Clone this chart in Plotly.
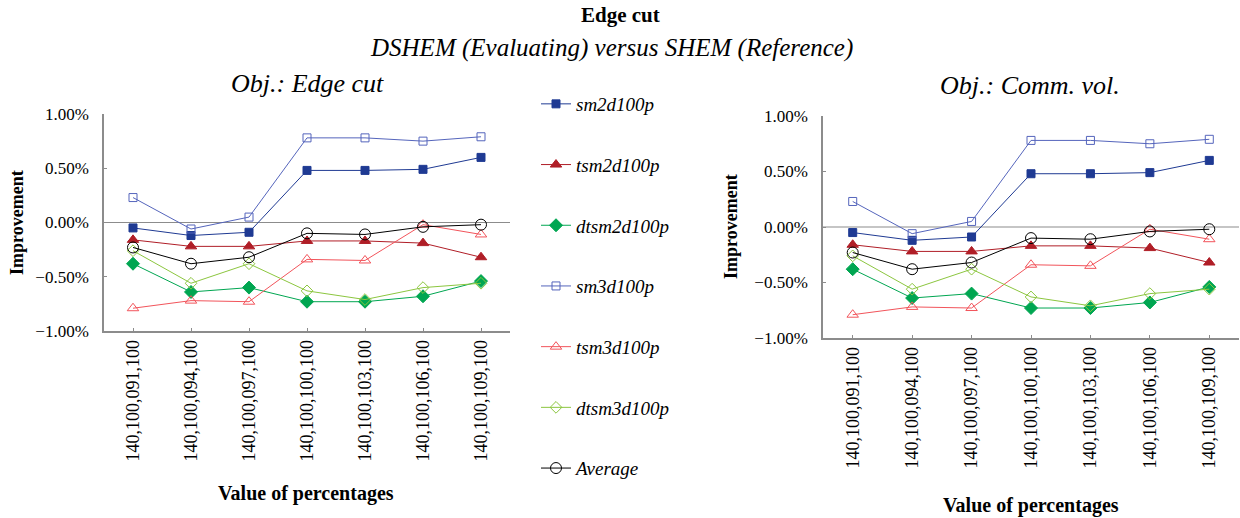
import plotly.graph_objects as go

categories = ["140,100,091,100", "140,100,094,100", "140,100,097,100", "140,100,100,100",
              "140,100,103,100", "140,100,106,100", "140,100,109,100"]

sm2d100p = [-0.05, -0.12, -0.09, 0.48, 0.48, 0.49, 0.60]
tsm2d100p = [-0.16, -0.22, -0.22, -0.17, -0.17, -0.19, -0.32]
dtsm2d100p = [-0.38, -0.64, -0.60, -0.73, -0.73, -0.68, -0.54]
sm3d100p = [0.23, -0.06, 0.05, 0.78, 0.78, 0.75, 0.79]
tsm3d100p = [-0.79, -0.72, -0.73, -0.34, -0.35, -0.02, -0.11]
dtsm3d100p = [-0.26, -0.56, -0.38, -0.63, -0.71, -0.60, -0.56]
average = [-0.23, -0.38, -0.32, -0.10, -0.11, -0.04, -0.02]

y_ticks = [-1.0, -0.5, 0.0, 0.5, 1.0]
y_tick_labels = ["\u22121.00%", "\u22120.50%", "0.00%", "0.50%", "1.00%"]

series = [
    ("sm2d100p", sm2d100p, "#1F3A93", "square", 8),
    ("tsm2d100p", tsm2d100p, "#B01E27", "triangle-up", 10),
    ("dtsm2d100p", dtsm2d100p, "#00A651", "diamond", 10),
    ("sm3d100p", sm3d100p, "#5565BC", "square-open", 8),
    ("tsm3d100p", tsm3d100p, "#F2545B", "triangle-up-open", 10),
    ("dtsm3d100p", dtsm3d100p, "#8CC63F", "diamond-open", 9),
    ("Average", average, "#000000", "circle-open", 11),
]

SERIF = "Liberation Serif"
W, H = 1240, 518

fig = go.Figure()
for col, (xa, ya) in enumerate([("x", "y"), ("x2", "y2")]):
    for name, vals, color, sym, size in series:
        fig.add_trace(go.Scatter(
            x=categories, y=vals, name=name, xaxis=xa, yaxis=ya,
            mode="lines+markers",
            line=dict(color=color, width=1),
            marker=dict(symbol=sym, size=size, color=color,
                        line=dict(color=color, width=1)),
            showlegend=(col == 0), legendgroup=name,
        ))

def px_x(a, b):
    return [a / W, b / W]

def px_y(top, bottom):
    return [1 - bottom / H, 1 - top / H]

axis_common = dict(
    showline=True, linecolor="#8C8C8C", linewidth=1.5,
    ticks="inside", ticklen=3, tickcolor="#8C8C8C",
    showgrid=False, zeroline=False, automargin=False,
)
xfont = dict(family=SERIF, size=18, color="#000000")
yfont = dict(family=SERIF, size=17, color="#000000")

fig.update_layout(
    width=W, height=H,
    margin=dict(l=0, r=0, t=0, b=0, pad=0, autoexpand=False),
    paper_bgcolor="white", plot_bgcolor="white",
    font=dict(family=SERIF, color="#000000"),
    xaxis=dict(domain=px_x(104, 510), anchor="y", type="category",
               range=[-0.5, 6.5], tickangle=-90, tickfont=xfont, **axis_common),
    yaxis=dict(domain=px_y(114, 331), anchor="x", range=[-1, 1],
               tickmode="array", tickvals=y_ticks, ticktext=y_tick_labels,
               ticklabelstandoff=10, tickfont=yfont, **axis_common),
    xaxis2=dict(domain=px_x(823, 1239), anchor="y2", type="category",
                range=[-0.5, 6.5], tickangle=-90, tickfont=xfont, **axis_common),
    yaxis2=dict(domain=px_y(116, 338), anchor="x2", range=[-1, 1],
                tickmode="array", tickvals=y_ticks, ticktext=y_tick_labels,
                ticklabelstandoff=10, tickfont=yfont, **axis_common),
    legend=dict(x=536 / W, y=1 - 85 / H, xanchor="left", yanchor="top",
                font=dict(family=SERIF, size=19, color="#000000", style="italic"),
                tracegroupgap=33, bgcolor="rgba(0,0,0,0)",
                itemwidth=30),
    showlegend=True,
)

# zero reference lines
for xr, yr in [("x", "y"), ("x2", "y2")]:
    fig.add_shape(type="line", xref=f"{xr} domain", yref=yr, x0=0, x1=1, y0=0, y1=0,
                  line=dict(color="#8C8C8C", width=1.2), layer="below")

def ann(text, x, y, size, bold=False, italic=False, angle=0):
    t = f"<b>{text}</b>" if bold else text
    fig.add_annotation(text=t, x=x / W, y=1 - y / H, xref="paper", yref="paper",
                       showarrow=False, textangle=angle,
                       font=dict(family=SERIF, size=size, color="#000000",
                                 style="italic" if italic else "normal"),
                       xanchor="center", yanchor="middle")

ann("Edge cut", 620, 15, 21, bold=True)
ann("DSHEM (Evaluating) versus SHEM (Reference)", 611, 48, 25, italic=True)
ann("Obj.: Edge cut", 307, 83, 26, italic=True)
ann("Obj.: Comm. vol.", 1030, 85, 26, italic=True)
ann("Improvement", 17, 223, 18, bold=True, angle=-90)
ann("Improvement", 731, 227, 18, bold=True, angle=-90)
ann("Value of percentages", 306, 493, 20, bold=True)
ann("Value of percentages", 1031, 505, 20, bold=True)

fig.write_html(
    "out.html",
    config={"displayModeBar": False},
    post_script="document.body.style.margin='0';document.body.style.overflow='hidden';",
)
